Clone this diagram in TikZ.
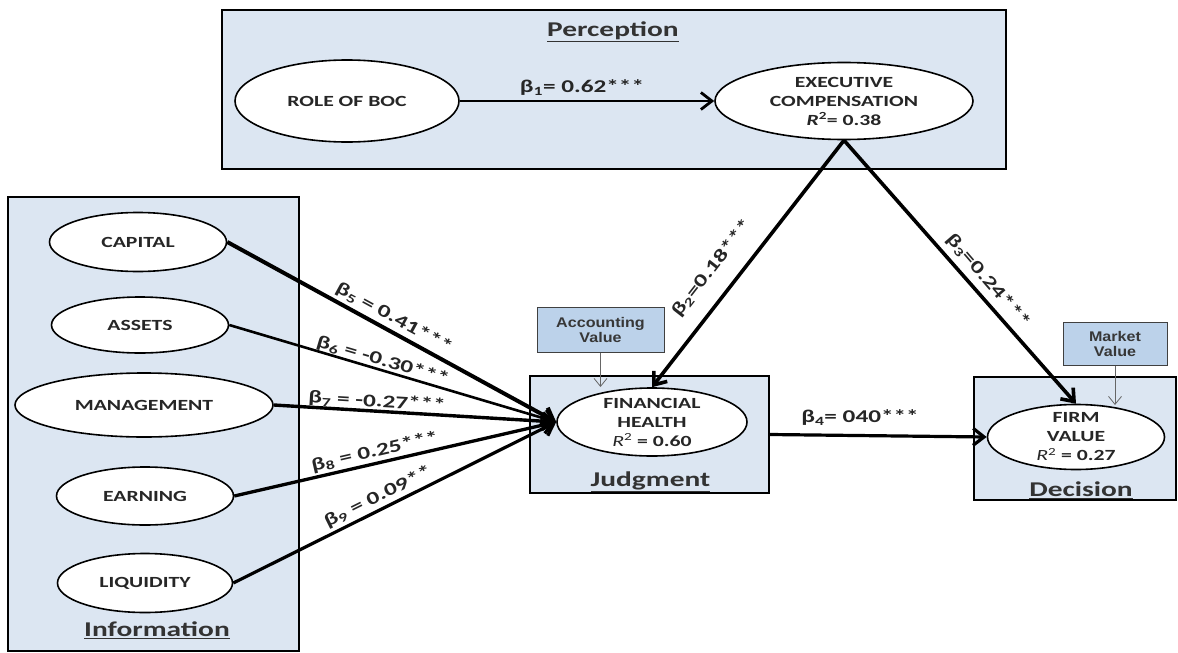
\documentclass[tikz,border=0pt]{standalone}
\usepackage{fontspec}
\setmainfont{Carlito}[FakeStretch=1.4]
\newfontfamily\boxfont{Liberation Sans}[FakeStretch=1.15]
\usetikzlibrary{shapes.geometric,arrows.meta}
\definecolor{panel}{RGB}{220,230,242}
\definecolor{valfill}{RGB}{188,210,234}
\definecolor{valtext}{RGB}{55,55,55}
\begin{document}
\begin{tikzpicture}[x=1pt,y=-1pt,
  panelbox/.style={draw, line width=1.8pt, fill=panel, rectangle, inner sep=0pt},
  ell/.style={draw, line width=1.6pt, fill=white, ellipse, inner sep=0pt},
  etext/.style={font=\fontsize{15.5}{19}\selectfont\bfseries, align=center, text=black!85, inner sep=0pt},
  titletext/.style={font=\fontsize{21}{24}\selectfont\bfseries, anchor=base, text=black!80},
  beta/.style={font=\fontsize{18}{20}\selectfont\bfseries, inner sep=1pt, text=black!85},
  arr/.style={-{Straight Barb[length=11pt,width=17pt]}, line width=3pt},
  thinarr/.style={-{Straight Barb[length=8pt,width=13pt]}, line width=0.8pt, draw=black!60},
  valbox/.style={draw=black!75, line width=1pt, fill=valfill, rectangle, inner sep=0pt, align=center,
    font=\fontsize{14}{15}\selectfont\boxfont\bfseries, text=valtext}
]
\path[use as bounding box] (0,0) rectangle (1178,653);

% panels
\node[panelbox, minimum width=784pt, minimum height=159pt] (perc) at (614,89.5) {};
\node[panelbox, minimum width=291pt, minimum height=454pt] (info) at (153.5,424) {};
\node[panelbox, minimum width=239pt, minimum height=117pt] (judg) at (649.5,434.5) {};
\node[panelbox, minimum width=202pt, minimum height=123pt] (deci) at (1075,438.5) {};

% titles
\node[titletext] (tperc) at (613,36) {\underline{Perception}};
\node[titletext] (tinfo) at (157,636.5) {\underline{Information}};
\node[titletext] (tjudg) at (650.5,486) {\underline{Judgment}};
\node[titletext] (tdeci) at (1081,496.5) {\underline{Decision}};

% value boxes
\node[valbox, minimum width=127pt, minimum height=45pt] (acc) at (600.5,329.5) {Accounting\\Value};
\node[valbox, minimum width=104pt, minimum height=43pt] (mkt) at (1115,343.5) {Market\\Value};

% ellipses
\node[ell, minimum width=224pt, minimum height=82pt, label={[etext]center:{ROLE OF BOC}}] (boc) at (347,101) {};
\node[ell, minimum width=258pt, minimum height=77pt, label={[etext]center:{EXECUTIVE\\COMPENSATION\\{\itshape R}\textsuperscript{2}= 0.38}}] (exec) at (844,101) {};
\node[ell, minimum width=177pt, minimum height=59pt, label={[etext]center:{CAPITAL}}] (cap) at (138,242) {};
\node[ell, minimum width=177pt, minimum height=56pt, label={[etext]center:{ASSETS}}] (ast) at (140,325) {};
\node[ell, minimum width=258pt, minimum height=64pt, label={[etext]center:{MANAGEMENT}}] (mgt) at (144,405) {};
\node[ell, minimum width=177pt, minimum height=58pt, label={[etext]center:{EARNING}}] (ear) at (145,496) {};
\node[ell, minimum width=175pt, minimum height=59pt, label={[etext]center:{LIQUIDITY}}] (liq) at (145,583) {};
\node[ell, minimum width=190pt, minimum height=68pt, label={[etext]center:{FINANCIAL\\HEALTH\\{\mdseries\itshape R}\textsuperscript{\mdseries 2} = 0.60}}] (fh) at (652,422) {};
\node[ell, minimum width=177pt, minimum height=65pt, label={[etext]center:{FIRM\\VALUE\\{\mdseries\itshape R}\textsuperscript{\mdseries 2} = 0.27}}] (fv) at (1076,437) {};

% connectors
\draw[arr, line width=2.8pt] (boc) -- (exec);
\draw[arr, line width=4pt] (cap.east) -- (fh.west);
\draw[arr, line width=2.6pt] (ast.east) -- (fh.west);
\draw[arr, line width=3.4pt] (mgt.east) -- (fh.west);
\draw[arr, line width=3.3pt] (ear.east) -- (fh.west);
\draw[arr, line width=3.2pt] (liq.east) -- (fh.west);
\draw[arr, line width=3.6pt] (exec.south) -- (fh.north);
\draw[arr, line width=3.6pt] (exec.south) -- (fv.north);
\draw[arr, line width=3.2pt] (judg.east) -- (fv.west);
\coordinate (accend) at (600.5,387);
\coordinate (mktend) at (1115,405);
\draw[thinarr] (acc.south) -- (accend);
\draw[thinarr] (mkt.south) -- (mktend);

% coefficient labels
\node[beta] (l1) at (582,88) {β\textsubscript{1}= 0.62***};
\node[beta, rotate=-28.6] (l5) at (394,318) {β\textsubscript{5} = 0.41***};
\node[beta, rotate=-16.5] (l6) at (383,361) {β\textsubscript{6} = -0.30***};
\node[beta, rotate=-3.4] (l7) at (377,402) {β\textsubscript{7} = -0.27***};
\node[beta, rotate=12.9] (l8) at (375,452) {β\textsubscript{8} = 0.25***};
\node[beta, rotate=26.4] (l9) at (378,497) {β\textsubscript{9} = 0.09**};
\node[beta, rotate=52] (l2) at (712,268) {β\textsubscript{2}=0.18***};
\node[beta, rotate=-49.2] (l3) at (988,281) {β\textsubscript{3}=0.24***};
\node[beta] (l4) at (860,418) {β\textsubscript{4}= 040***};
\end{tikzpicture}
\end{document}
